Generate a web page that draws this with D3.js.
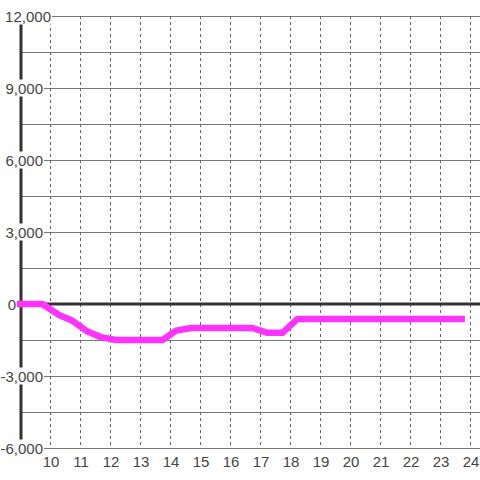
<!DOCTYPE html>
<html>
<head>
<meta charset="utf-8">
<script src="https://cdn.jsdelivr.net/npm/d3@7"></script>
<style>
  html, body { margin: 0; padding: 0; background: #fff; }
  svg text { font-family: "Liberation Sans", Arial, sans-serif; font-size: 15px; fill: #444; }
</style>
</head>
<body>
<svg id="chart" width="480" height="480"></svg>
<script>
// hours of the day (x) and values (y)
const hours = [8.9, 9.75, 10.3, 10.75, 11.25, 11.7, 12.2, 13.75, 14.2, 14.7, 16.75, 17.25, 17.75, 18.25, 23.83]
const values = [0, 0, -460, -700, -1150, -1380, -1500, -1500, -1110, -1000, -1000, -1200, -1200, -620, -620]
// axis ticks
const xTicks = [10, 11, 12, 13, 14, 15, 16, 17, 18, 19, 20, 21, 22, 23, 24]
const yTicks = [-6000, -3000, 0, 3000, 6000, 9000, 12000]
const yGridTicks = d3.range(-6000, 12001, 1500)

const svg = d3.select("#chart")
const fmt = d3.format(",")

// scales: left edge sits at hour 9, 30px per hour
const xScale = d3.scaleLinear().domain([9, 24]).range([20, 470])
const yScale = d3.scaleLinear().domain([-6000, 12000]).range([448, 16])

// horizontal solid grid lines
svg.append("g")
  .selectAll("line")
  .data(yGridTicks)
  .join("line")
  .attr("x1", xScale(9))
  .attr("x2", 480)
  .attr("y1", (d) => Math.round(yScale(d)) + 0.5)
  .attr("y2", (d) => Math.round(yScale(d)) + 0.5)
  .attr("stroke", "#777")
  .attr("stroke-width", 1)

// vertical dashed grid lines
svg.append("g")
  .selectAll("line")
  .data(xTicks)
  .join("line")
  .attr("x1", (d) => Math.round(xScale(d)) + 0.5)
  .attr("x2", (d) => Math.round(xScale(d)) + 0.5)
  .attr("y1", yScale(12000))
  .attr("y2", yScale(-6000))
  .attr("stroke", "#666")
  .attr("stroke-width", 1)
  .attr("stroke-dasharray", "3,3")

// thick left axis bar
svg.append("line")
  .attr("x1", xScale(9) + 1)
  .attr("x2", xScale(9) + 1)
  .attr("y1", yScale(12000))
  .attr("y2", yScale(-6000))
  .attr("stroke", "#333")
  .attr("stroke-width", 3)

// zero baseline
svg.append("line")
  .attr("x1", xScale(9))
  .attr("x2", 480)
  .attr("y1", yScale(0))
  .attr("y2", yScale(0))
  .attr("stroke", "#333")
  .attr("stroke-width", 3)

// data line
const line = d3.line()
  .x((d, i) => xScale(hours[i]))
  .y((d) => yScale(d))

svg.append("path")
  .datum(values)
  .attr("d", line)
  .attr("fill", "none")
  .attr("stroke", "#ff33ff")
  .attr("stroke-width", 6.5)
  .attr("stroke-linejoin", "round")

// y labels sit on white boxes over the axis bar
const labelShift = { 12000: 8, 0: -27 }
const yLabels = svg.append("g")
yTicks.forEach((t) => {
  const g = yLabels.append("g")
  const txt = g.append("text")
    .attr("x", 43 + (labelShift[t] || 0))
    .attr("y", yScale(t) + 5.5)
    .attr("text-anchor", "end")
    .text(fmt(t).replace("−", "-"))
  const b = txt.node().getBBox()
  g.insert("rect", "text")
    .attr("x", b.x - 1)
    .attr("y", b.y)
    .attr("width", b.width + 2)
    .attr("height", b.height)
    .attr("fill", "#fff")
})

// x labels
svg.append("g")
  .selectAll("text")
  .data(xTicks)
  .join("text")
  .attr("x", (d) => xScale(d) + 1)
  .attr("y", 467)
  .attr("text-anchor", "middle")
  .text((d) => d)
</script>
</body>
</html>
